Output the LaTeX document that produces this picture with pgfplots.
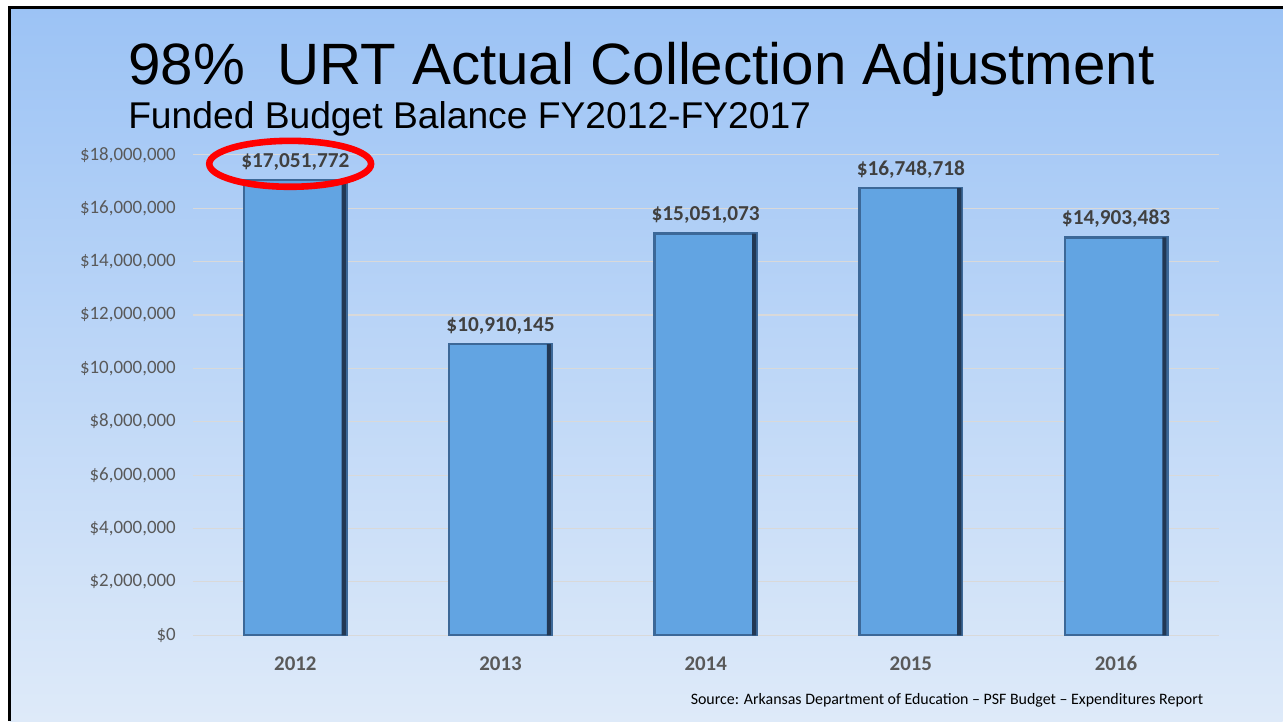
\documentclass[border=0pt]{standalone}
\usepackage{pgfplots}
\usepackage{pgfplotstable}
\pgfplotsset{compat=1.18}
\usepackage{fontspec}
\setmainfont{Carlito}
\newfontfamily\arial{Liberation Sans}
\definecolor{bgtop}{RGB}{156,195,245}
\definecolor{bgbot}{RGB}{222,234,249}
\definecolor{barblue}{RGB}{98,164,226}
\definecolor{baredge}{RGB}{60,104,152}
\definecolor{bardark}{RGB}{34,56,84}
\definecolor{ticktext}{RGB}{89,89,89}
\definecolor{labtext}{RGB}{64,64,64}
\definecolor{gridgray}{RGB}{217,217,217}

% categories placed at 0.5, 1.5, ... so that the axis origin is its corner
\pgfplotstableread{
x y lab
0.5 17051772 17,051,772
1.5 10910145 10,910,145
2.5 15051073 15,051,073
3.5 16748718 16,748,718
4.5 14903483 14,903,483
}\budget

\begin{document}
\begin{tikzpicture}[x=1bp,y=1bp]
% page 1284x722 px -> 642x361 bp
\fill[white] (0,0) rectangle (642,361);
\shade[top color=bgtop, bottom color=bgbot] (5,0) rectangle (642,357);
\draw[black, line width=1.5bp] (5,0) -- (5,357) -- (642,357);

\node[anchor=base west, inner sep=0, font=\arial\fontsize{29.3}{35}\selectfont] at (64,318.5)
  {98\%\ \ URT Actual Collection Adjustment};
\node[anchor=base west, inner sep=0, font=\arial\fontsize{18.7}{22}\selectfont] at (64,296.5)
  {Funded Budget Balance FY2012-FY2017};

\begin{axis}[
  at={(96.5bp,43bp)}, anchor=origin,
  scale only axis,
  width=513.5bp, height=240.5bp,
  xmin=0, xmax=5,
  ymin=0, ymax=18000000,
  ytick={0,2000000,...,18000000},
  xtick={0.5,1.5,2.5,3.5,4.5},
  xticklabels={2012,2013,2014,2015,2016},
  scaled y ticks=false,
  yticklabel={\$\pgfmathprintnumber[assume math mode=true,fixed,precision=0,1000 sep={,}]{\tick}},
  yticklabel style={font=\fontsize{9.5}{11}\selectfont, text=ticktext, xshift=-5bp},
  xticklabel style={font=\bfseries\fontsize{10.5}{12}\selectfont, text=ticktext, anchor=base, yshift=-17.5bp},
  xtick pos=bottom,
  major tick length=0,
  axis line style={draw=none},
  ymajorgrids,
  major grid style={gridgray, line width=0.6bp},
  clip=false,
]
\addplot[
  ybar, bar width=0.5, bar shift=0,
  fill=barblue, draw=baredge, line width=1.2bp,
  point meta=explicit symbolic,
  nodes near coords={\$\pgfplotspointmeta},
  every node near coord/.append style={font=\bfseries\fontsize{10.7}{12}\selectfont, text=labtext, yshift=1bp},
] table[x=x, y=y, meta=lab] {\budget};
% darker right-hand edge of each bar
\addplot[
  ybar, bar width=0.02, bar shift=0.236,
  fill=bardark, draw=none,
] table[x=x, y=y] {\budget};
\end{axis}

\draw[red, line width=3.3bp] (145.25,279) ellipse [x radius=40.5, y radius=11.5];

\node[anchor=base east, inner sep=0, font=\fontsize{8}{10}\selectfont] at (602.5,8.5)
  {Source: Arkansas Department of Education -- PSF Budget -- Expenditures Report};
\end{tikzpicture}
\end{document}
